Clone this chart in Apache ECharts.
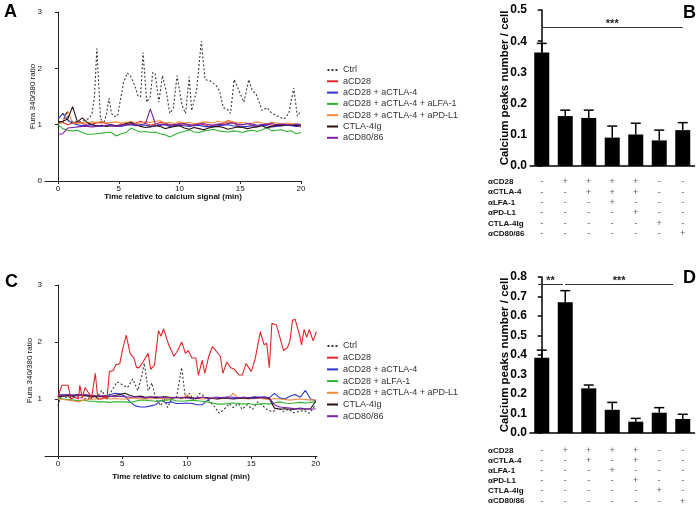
<!DOCTYPE html>
<html>
<head>
<meta charset="utf-8">
<script src="https://cdn.jsdelivr.net/npm/echarts@6/dist/echarts.min.js"></script>
<style>
  html, body { margin: 0; padding: 0; background: #fff; }
  #main { width: 699px; height: 508px; }
</style>
</head>
<body>
<div id="main"></div>
<script>
// ---- data ----
// time grid (min) for the flatter traces
const tGrid = [0,0.4,0.8,1.2,1.6,2.0,2.4,2.8,3.2,3.6,4.0,4.4,4.8,5.2,5.6,6.0,6.4,6.8,7.2,7.6,8.0,8.4,8.8,9.2,9.6,10.0,10.4,10.8,11.2,11.6,12.0,12.4,12.8,13.2,13.6,14.0,14.4,14.8,15.2,15.6,16.0,16.4,16.8,17.2,17.6,18.0,18.4,18.8,19.2,19.6,20.0];

// panel A
const ctrlTimeA = [0,0.4,0.7,0.9,1.2,1.5,1.9,2.3,2.6,2.8,3.0,3.2,3.5,3.8,4.0,4.2,4.4,4.6,4.9,5.1,5.4,5.7,6.0,6.3,6.6,6.8,7.0,7.3,7.6,7.8,8.0,8.3,8.6,8.9,9.2,9.5,9.8,10.2,10.5,10.8,11.0,11.4,11.8,12.1,12.5,13.0,13.3,13.6,13.9,14.2,14.5,15.0,15.3,15.7,16.0,16.3,16.8,17.2,17.6,18.1,18.6,19.0,19.4,19.7,20.0];
const ctrlA = [1.03,1.05,1.23,1.06,1.05,1.05,1.06,1.08,1.12,1.2,1.5,2.35,1.1,1.05,1.2,1.47,1.2,1.15,1.15,1.4,1.75,1.92,1.85,1.7,1.5,1.5,2.28,1.4,1.5,1.93,1.9,1.4,1.87,1.6,1.2,1.3,1.87,1.35,1.2,1.85,1.25,1.6,2.48,1.8,1.78,1.7,1.6,1.3,1.28,1.2,1.8,1.55,1.4,1.8,1.6,1.55,1.25,1.3,1.2,1.15,1.1,1.2,1.65,1.15,1.25];
const cd28A = [1.02,1.04,1.00,1.03,1.05,1.02,0.99,1.01,1.03,1.04,1.02,1.00,0.98,1.01,1.00,1.02,1.03,1.06,1.02,0.99,1.01,1.04,1.03,1.00,0.99,1.02,1.01,0.98,1.00,1.02,1.00,0.97,0.99,1.01,1.02,1.05,1.03,0.99,1.00,1.02,0.98,0.97,1.00,1.01,0.99,1.00,0.98,0.99,1.00,0.98,0.96];
const ctla4A = [1.10,1.20,1.08,1.02,1.00,0.98,0.99,1.00,0.98,0.97,0.99,1.00,0.98,0.97,0.99,1.00,0.98,1.00,0.99,0.97,0.98,0.99,1.00,0.97,0.98,0.99,0.98,0.97,0.98,0.99,0.97,0.96,0.97,0.98,0.99,1.00,0.98,0.97,0.96,0.97,0.98,0.97,0.99,0.98,0.96,0.97,0.98,0.99,0.98,0.97,0.98];
const lfaA = [1.00,0.93,0.90,0.89,0.90,0.86,0.83,0.83,0.84,0.85,0.86,0.86,0.80,0.84,0.86,0.94,0.90,0.87,0.88,0.86,0.87,0.84,0.82,0.78,0.82,0.86,0.88,0.91,0.87,0.86,0.89,0.90,0.92,0.89,0.88,0.87,0.89,0.88,0.86,0.89,0.90,0.88,0.91,0.95,0.89,0.90,0.91,0.88,0.89,0.84,0.86];
const pdl1A = [1.02,1.05,1.24,1.03,1.02,1.04,1.03,1.05,1.04,1.06,1.03,1.04,1.05,1.03,1.04,1.06,1.02,1.03,1.05,1.04,1.06,1.07,1.03,1.04,1.02,1.05,1.03,1.04,1.02,1.03,1.05,1.04,1.03,1.06,1.04,1.08,1.05,1.03,1.04,1.02,1.03,1.05,1.03,1.02,1.04,1.03,1.01,1.03,1.02,1.01,1.00];
const igA = [1.05,1.06,1.10,1.32,1.05,1.12,1.04,1.00,0.98,0.99,0.97,0.98,0.97,0.99,1.02,1.04,1.00,0.97,0.95,0.96,0.98,0.97,0.93,0.95,0.97,0.98,0.94,0.92,0.95,0.93,0.91,0.94,0.96,0.97,0.95,0.92,0.94,0.96,0.95,0.93,0.95,0.96,0.98,0.94,0.97,0.99,0.98,1.00,0.99,0.98,1.00];
const cd80A = [0.83,0.84,0.94,0.95,0.96,0.97,0.97,0.96,0.97,0.98,0.99,0.98,0.97,0.99,1.00,1.01,1.00,0.99,1.02,1.28,1.02,1.00,1.01,0.99,1.00,1.01,1.02,1.00,0.99,1.01,1.02,1.00,0.99,1.01,1.00,1.02,1.03,1.01,1.00,1.02,1.01,0.99,1.00,1.01,1.02,1.00,1.01,1.00,0.99,1.01,1.00];

// panel C
const ctrlTimeC = [0,0.3,0.7,1.2,1.7,2.2,2.7,3.0,3.4,3.8,4.2,4.6,5.0,5.4,5.8,6.2,6.5,6.7,7.0,7.3,7.6,8.0,8.2,8.5,8.8,9.2,9.6,9.9,10.2,10.6,11.0,11.4,11.8,12.2,12.5,12.9,13.3,13.6,14.0,14.3,14.7,15.1,15.5,15.9,16.3,16.7,17.1,17.5,17.9,18.3,18.7,19.1,19.5,20.0];
const ctrlC = [0.88,1.08,1.02,1.05,1.03,1.0,1.04,1.02,1.15,1.0,1.15,1.3,1.25,1.2,1.35,1.15,1.4,1.63,1.15,1.28,1.0,0.88,1.05,0.85,1.0,1.02,1.55,1.0,1.1,0.95,1.1,1.05,0.95,0.85,0.75,0.82,0.92,0.85,0.92,0.82,0.9,0.82,0.95,0.88,0.8,0.78,0.85,0.78,0.82,0.76,0.78,0.8,0.75,0.9];
const cd28TimeC = [0,0.3,0.8,1.0,1.3,1.6,1.7,1.9,2.1,2.4,2.6,2.9,3.1,3.4,3.6,3.8,4.0,4.3,4.5,4.8,5.0,5.3,5.6,5.9,6.1,6.3,6.6,7.0,7.2,7.5,7.8,8.0,8.2,8.6,9.0,9.3,9.6,9.9,10.1,10.4,10.7,10.9,11.2,11.4,11.7,12.0,12.6,12.8,13.1,13.4,13.7,14.05,14.3,14.6,15.0,15.3,15.7,16.0,16.2,16.4,16.6,16.95,17.2,17.5,17.8,18.0,18.2,18.4,18.75,18.9,19.1,19.3,19.5,19.8,20.05];
const cd28C = [1.03,1.24,1.24,1.0,1.03,1.0,1.24,1.02,1.2,1.1,1.0,1.45,1.0,1.0,1.05,1.0,1.48,1.5,1.6,1.62,1.85,2.12,1.8,1.72,1.55,1.55,1.65,1.8,1.52,1.6,2.2,2.1,2.23,1.95,1.75,1.85,2.0,1.8,1.85,1.72,1.72,1.42,1.68,1.45,1.75,1.92,1.75,1.45,1.65,1.55,1.52,1.42,1.42,1.62,1.48,1.7,2.18,1.95,1.98,1.55,2.33,2.3,2.1,1.85,1.9,2.02,2.38,2.4,2.12,1.95,2.22,2.08,2.22,2.02,2.18];
const ctla4C = [1.08,1.07,1.06,1.07,1.08,1.07,1.06,1.05,1.04,1.05,1.07,1.10,1.09,1.05,0.95,0.88,0.86,0.86,0.88,0.90,0.98,0.93,0.95,0.92,0.92,0.93,0.92,0.90,0.90,0.98,1.03,1.03,1.02,1.04,1.03,1.02,1.03,1.02,1.04,1.03,1.04,1.02,1.10,1.02,1.00,1.05,1.08,1.03,1.15,1.00,0.97];
const lfaC = [1.02,1.00,0.99,0.98,0.97,0.98,0.96,0.96,0.95,0.95,0.94,0.95,0.95,0.95,0.94,0.96,0.98,0.98,0.97,0.96,0.97,0.98,0.99,0.97,0.96,0.97,0.98,0.97,0.96,0.95,0.93,0.91,0.91,0.92,0.93,0.92,0.91,0.92,0.90,0.91,0.92,0.91,0.93,0.95,0.93,0.92,0.93,0.94,0.93,0.94,0.95];
const pdl1C = [1.00,0.99,0.98,0.97,0.95,0.98,0.99,1.00,1.00,1.01,1.00,1.01,1.00,1.00,1.01,1.02,1.00,1.01,1.00,1.02,1.01,1.00,1.01,1.03,1.00,1.07,1.02,1.01,1.00,1.01,1.02,1.00,1.01,1.02,1.10,1.02,1.01,1.00,1.01,1.02,1.00,0.99,1.01,1.00,0.99,0.98,0.99,1.00,0.99,0.98,0.99];
const igC = [1.04,1.05,1.06,1.05,1.07,1.06,1.05,1.04,1.05,1.03,1.04,1.06,1.08,1.10,1.06,1.04,1.05,1.03,1.04,1.02,1.03,1.04,1.02,1.03,1.02,1.03,1.02,1.01,1.03,1.02,1.01,1.00,1.02,1.01,1.00,1.01,1.02,1.01,1.02,1.03,1.02,1.01,0.84,0.82,0.83,0.82,0.82,0.83,0.82,0.83,0.96];
const cd80C = [1.06,1.07,1.08,1.07,1.06,1.08,1.07,1.06,1.05,1.06,1.05,1.04,1.05,1.04,1.03,1.04,1.03,1.02,1.03,1.04,1.03,1.02,1.03,1.02,1.03,1.02,1.01,1.02,1.03,1.02,1.01,1.02,1.03,1.02,1.01,1.02,1.03,1.02,1.01,1.02,1.03,1.02,0.90,0.86,0.85,0.84,0.83,0.84,0.83,0.82,0.83];

// panels B and D: mean and mean + SEM
const barsB = [0.364, 0.160, 0.154, 0.091, 0.101, 0.082, 0.115];
const errB  = [0.393, 0.179, 0.179, 0.128, 0.137, 0.115, 0.139];
const barsD = [0.386, 0.671, 0.229, 0.119, 0.058, 0.104, 0.072];
const errD  = [0.425, 0.730, 0.246, 0.157, 0.075, 0.130, 0.096];

const rowLabels = ['αCD28', 'αCTLA-4', 'αLFA-1', 'αPD-L1', 'CTLA-4Ig', 'αCD80/86'];
const signsB = ['-++++--', '--+++--', '---+---', '----+--', '-----+-', '------+'];
const signsD = ['-++++--', '--+-+--', '---+---', '----+--', '-----+-', '------+'];

const namesA = ['Ctrl', 'aCD28', 'aCD28 + aCTLA-4', 'aCD28 + aCTLA-4 + aLFA-1', 'aCD28 + aCTLA-4 + aPD-L1', 'CTLA-4Ig', 'aCD80/86'];
const namesC = ['Ctrl', 'aCD28', 'aCD28 + aCTLA-4', 'aCD28 + aLFA-1', 'aCD28 + aCTLA-4 + aPD-L1', 'CTLA-4Ig', 'aCD80/86'];

// ---- chart ----
const FONT = 'Liberation Sans, Arial, sans-serif';
const colors = ['#3a3a3a', '#e3262b', '#2b32cf', '#2fb32f', '#f08a3c', '#2b0f0f', '#7a22a6'];

const pairs = (ts, vs) => ts.map((t, i) => [t, vs[i]]);

function lineSeries(name, data, color, idx, dotted) {
  return {
    name: name, type: 'line', xAxisIndex: idx, yAxisIndex: idx, data: data,
    symbol: 'none', showSymbol: false, animation: false,
    lineStyle: { color: color, width: 1.1, type: dotted ? [2, 2] : 'solid' },
    itemStyle: { color: color }
  };
}

function errSeries(idx, means, tops) {
  return {
    type: 'custom', xAxisIndex: idx, yAxisIndex: idx, silent: true,
    data: means.map((v, i) => [i, v, tops[i]]),
    renderItem: function (params, api) {
      const x = api.value(0);
      const lo = api.coord([x, api.value(1)]);
      const hi = api.coord([x, api.value(2)]);
      const st = { stroke: '#000', lineWidth: 1.5 };
      return {
        type: 'group', children: [
          { type: 'line', shape: { x1: lo[0], y1: lo[1], x2: hi[0], y2: hi[1] }, style: st },
          { type: 'line', shape: { x1: hi[0] - 5, y1: hi[1], x2: hi[0] + 5, y2: hi[1] }, style: st }
        ]
      };
    }
  };
}

function tableSeries(idx, signs) {
  const data = [];
  signs.forEach((row, r) => {
    row.split('').forEach((s, c) => data.push([c, r, s]));
  });
  return {
    type: 'scatter', xAxisIndex: idx, yAxisIndex: idx, data: data, silent: true,
    symbolSize: 1, itemStyle: { color: 'rgba(0,0,0,0)' },
    label: { show: true, position: 'inside', formatter: p => p.value[2], fontSize: 9, color: '#333', fontFamily: FONT }
  };
}

const sigLine = { color: '#333', width: 1, type: 'solid' };
const sigLabel = { position: 'middle', formatter: '{b}', fontSize: 11, fontWeight: 'bold', color: '#222', distance: 1, offset: [0, 3] };

function lineXAxis(idx, min, max, gap) {
  return {
    gridIndex: idx, type: 'value', min: min, max: max,
    axisLine: { show: true, onZero: false, lineStyle: { color: '#222', width: 1 } },
    axisTick: { show: true, customValues: [0, 5, 10, 15, 20], length: 3, lineStyle: { color: '#222' } },
    axisLabel: { customValues: [0, 5, 10, 15, 20], fontSize: 8, color: '#111', margin: 4, fontFamily: FONT },
    splitLine: { show: false },
    name: 'Time relative to calcium signal (min)', nameLocation: 'middle', nameGap: gap, nameMoveOverlap: false,
    nameTextStyle: { fontSize: 8, fontWeight: 'bold', color: '#111', fontFamily: FONT }
  };
}

function lineYAxis(idx, labels, gap) {
  return {
    gridIndex: idx, type: 'value', min: 0, max: 3, interval: 1,
    axisLine: { show: true, lineStyle: { color: '#222', width: 1 } },
    axisTick: { show: true, length: 3, lineStyle: { color: '#222' } },
    axisLabel: { customValues: labels, fontSize: 8, color: '#111', margin: 3, fontFamily: FONT },
    splitLine: { show: false },
    name: 'Fura 340/380 ratio', nameLocation: 'middle', nameGap: gap, nameMoveOverlap: false,
    nameTextStyle: { fontSize: 8, color: '#111', fontFamily: FONT }
  };
}

function barXAxis(idx) {
  return {
    gridIndex: idx, type: 'value', min: -0.5, max: 6.5,
    axisLine: { show: true, onZero: false, lineStyle: { color: '#000', width: 1.5 } },
    axisTick: { show: false }, axisLabel: { show: false }, splitLine: { show: false }
  };
}

function barYAxis(idx, max) {
  return {
    gridIndex: idx, type: 'value', min: 0, max: max, interval: 0.1,
    axisLine: { show: true, lineStyle: { color: '#000', width: 1.5 } },
    axisTick: { show: true, length: 4, lineStyle: { color: '#000', width: 1.5 } },
    axisLabel: { formatter: v => v.toFixed(1), fontSize: 12, fontWeight: 'bold', color: '#000', margin: 3, fontFamily: FONT },
    splitLine: { show: false },
    name: 'Calcium peaks number / cell', nameLocation: 'middle', nameGap: 19, nameMoveOverlap: false,
    nameTextStyle: { fontSize: 11.5, fontWeight: 'bold', color: '#000', fontFamily: FONT }
  };
}

function tableXAxis(idx) {
  return { gridIndex: idx, type: 'value', min: -0.5, max: 6.5, show: false };
}

function tableYAxis(idx) {
  return {
    gridIndex: idx, type: 'category', data: rowLabels, inverse: true,
    axisLine: { show: false }, axisTick: { show: false }, splitLine: { show: false },
    axisLabel: { interval: 0, align: 'left', margin: 42, fontSize: 8, fontWeight: 'bold', color: '#111', fontFamily: FONT }
  };
}

// legend: solid lines as thin bars, Ctrl as a dotted icon
const dotIcon = 'path://M0,0h2v2h-2zM4,0h2v2h-2zM8,0h2v2h-2z';
const legendItems = names => names.map(n => n === 'Ctrl' ? { name: n, icon: dotIcon } : { name: n, icon: 'rect' });

const legendBase = {
  orient: 'vertical', padding: 0, itemWidth: 11, itemHeight: 2,
  textStyle: { fontSize: 9, color: '#333', fontFamily: FONT, lineHeight: 9 },
  selectedMode: false
};

const option = {
  animation: false,
  backgroundColor: '#fff',
  grid: [
    { left: 45, top: 12, width: 256, height: 169, outerBoundsMode: 'none' },
    { left: 45, top: 285, width: 272, height: 171, outerBoundsMode: 'none' },
    { left: 530, top: 10, width: 164.5, height: 156, outerBoundsMode: 'none' },
    { left: 530, top: 277, width: 164.5, height: 156, outerBoundsMode: 'none' },
    { left: 530, top: 176.5, width: 164.5, height: 62.4, outerBoundsMode: 'none' },
    { left: 530, top: 445.7, width: 164.5, height: 60.4, outerBoundsMode: 'none' }
  ],
  xAxis: [lineXAxis(0, -1.07, 20, 12), lineXAxis(1, -1.0, 20.1, 17), barXAxis(2), barXAxis(3), tableXAxis(4), tableXAxis(5)],
  yAxis: [lineYAxis(0, [0, 1, 2, 3], 8), lineYAxis(1, [1, 2, 3], 11), barYAxis(2, 0.5), barYAxis(3, 0.8), tableYAxis(4), tableYAxis(5)],
  legend: [
    Object.assign({}, legendBase, { data: legendItems(namesA), left: 327, top: 65.5, itemGap: 2.3 }),
    Object.assign({}, legendBase, { data: legendItems(namesC), left: 327, top: 341.5, itemGap: 2.7 })
  ],
  graphic: [
    { type: 'text', left: 4, top: 3, style: { text: 'A', fontSize: 18, fontWeight: 'bold', fontFamily: FONT, fill: '#000' } },
    { type: 'text', left: 683, top: 4, style: { text: 'B', fontSize: 18, fontWeight: 'bold', fontFamily: FONT, fill: '#000' } },
    { type: 'text', left: 5, top: 273, style: { text: 'C', fontSize: 18, fontWeight: 'bold', fontFamily: FONT, fill: '#000' } },
    { type: 'text', left: 683, top: 269, style: { text: 'D', fontSize: 18, fontWeight: 'bold', fontFamily: FONT, fill: '#000' } }
  ],
  series: [
    lineSeries(namesA[1], pairs(tGrid, cd28A), colors[1], 0),
    lineSeries(namesA[2], pairs(tGrid, ctla4A), colors[2], 0),
    lineSeries(namesA[3], pairs(tGrid, lfaA), colors[3], 0),
    lineSeries(namesA[4], pairs(tGrid, pdl1A), colors[4], 0),
    lineSeries(namesA[5], pairs(tGrid, igA), colors[5], 0),
    lineSeries(namesA[6], pairs(tGrid, cd80A), colors[6], 0),
    lineSeries(namesA[0], pairs(ctrlTimeA, ctrlA), colors[0], 0, true),

    lineSeries(namesC[0], pairs(ctrlTimeC, ctrlC), colors[0], 1, true),
    lineSeries(namesC[2], pairs(tGrid, ctla4C), colors[2], 1),
    lineSeries(namesC[3], pairs(tGrid, lfaC), colors[3], 1),
    lineSeries(namesC[4], pairs(tGrid, pdl1C), colors[4], 1),
    lineSeries(namesC[5], pairs(tGrid, igC), colors[5], 1),
    lineSeries(namesC[6], pairs(tGrid, cd80C), colors[6], 1),
    lineSeries(namesC[1], pairs(cd28TimeC, cd28C), colors[1], 1),

    {
      type: 'bar', xAxisIndex: 2, yAxisIndex: 2, barWidth: 15, itemStyle: { color: '#000' },
      data: barsB.map((v, i) => [i, v]),
      markLine: {
        symbol: ['none', 'none'], silent: true, lineStyle: sigLine, label: sigLabel,
        data: [[{ coord: [0, 0.445], name: '***' }, { coord: [6, 0.445] }]]
      }
    },
    errSeries(2, barsB, errB),
    {
      type: 'bar', xAxisIndex: 3, yAxisIndex: 3, barWidth: 15, itemStyle: { color: '#000' },
      data: barsD.map((v, i) => [i, v]),
      markLine: {
        symbol: ['none', 'none'], silent: true, lineStyle: sigLine, label: sigLabel,
        data: [
          [{ coord: [-0.16, 0.764], name: '**' }, { coord: [0.9, 0.764] }],
          [{ coord: [0.99, 0.764], name: '***' }, { coord: [5.59, 0.764] }]
        ]
      }
    },
    errSeries(3, barsD, errD),
    tableSeries(4, signsB),
    tableSeries(5, signsD)
  ]
};

const chart = echarts.init(document.getElementById('main'), null, { renderer: 'canvas' });
chart.setOption(option);
</script>
</body>
</html>
